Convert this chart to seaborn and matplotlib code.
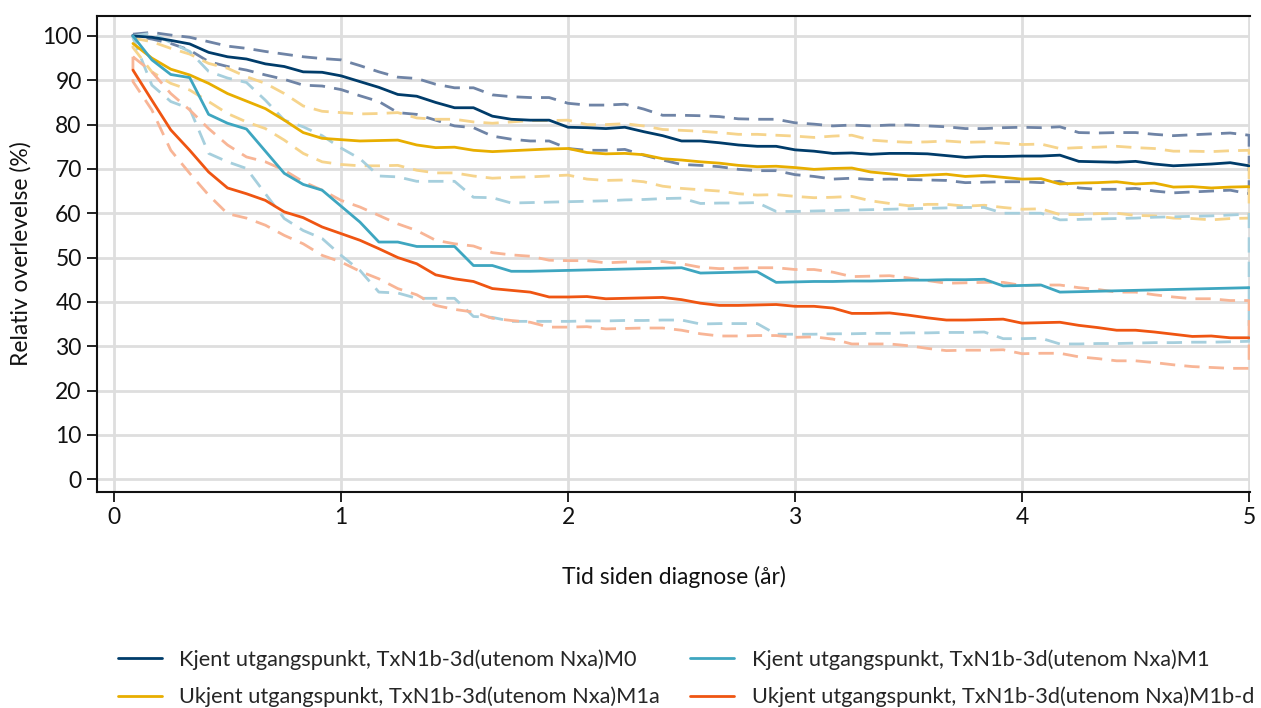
import numpy as np
import pandas as pd
import matplotlib
matplotlib.use("Agg")
import matplotlib.pyplot as plt
from matplotlib.lines import Line2D
import seaborn as sns

# ---------------- data ----------------
months = list(range(1, 61))
years = [m / 12 for m in months]

labels = [
    "Kjent utgangspunkt, TxN1b-3d(utenom Nxa)M0",
    "Ukjent utgangspunkt, TxN1b-3d(utenom Nxa)M1a",
    "Kjent utgangspunkt, TxN1b-3d(utenom Nxa)M1",
    "Ukjent utgangspunkt, TxN1b-3d(utenom Nxa)M1b-d",
]

m0_est = [100, 99.7, 99.0, 98.2, 96.3, 95.3, 94.8, 93.7, 93.1, 91.9, 91.8, 91.0,
          89.7, 88.4, 86.8, 86.4, 85.0, 83.8, 83.8, 81.9, 81.2, 81.0, 81.0, 79.4,
          79.3, 79.1, 79.4, 78.4, 77.5, 76.3, 76.3, 75.9, 75.4, 75.1, 75.1, 74.3,
          74.0, 73.5, 73.6, 73.3, 73.5, 73.5, 73.4, 73.0, 72.6, 72.8, 72.8, 72.9,
          72.9, 73.1, 71.7, 71.6, 71.5, 71.7, 71.1, 70.7, 70.9, 71.1, 71.4, 70.7]
m0_hi = [100.4, 100.8, 100.2, 99.7, 98.7, 97.7, 97.2, 96.5, 95.9, 95.3, 94.9, 94.6,
         93.3, 91.9, 90.7, 90.4, 89.1, 88.3, 88.3, 86.7, 86.3, 86.1, 86.1, 84.8,
         84.4, 84.4, 84.6, 83.5, 82.1, 82.1, 82.0, 81.8, 81.3, 81.2, 81.2, 80.4,
         80.1, 79.7, 79.9, 79.7, 79.9, 79.9, 79.7, 79.5, 79.1, 79.1, 79.3, 79.4,
         79.3, 79.5, 78.2, 78.1, 78.2, 78.2, 77.8, 77.5, 77.7, 77.9, 78.1, 77.6]
m0_lo = [100, 99.3, 98.3, 96.8, 94.2, 93.1, 92.3, 91.2, 90.2, 88.9, 88.7, 87.9,
         86.5, 85.2, 82.7, 82.3, 81.0, 79.7, 79.3, 77.4, 76.7, 76.3, 76.3, 74.6,
         74.2, 74.2, 74.4, 73.1, 72.0, 71.0, 70.8, 70.5, 69.9, 69.6, 69.6, 68.7,
         68.3, 67.7, 67.9, 67.6, 67.7, 67.6, 67.5, 67.4, 66.9, 67.0, 67.1, 67.1,
         66.9, 67.2, 65.7, 65.4, 65.4, 65.6, 65.0, 64.6, 64.8, 65.0, 65.2, 64.4]

m1a_est = [98.3, 95.0, 92.5, 91.2, 89.3, 87.0, 85.3, 83.6, 81.0, 78.2, 76.9, 76.6,
           76.3, 76.4, 76.5, 75.4, 74.8, 74.9, 74.2, 73.9, 74.1, 74.3, 74.5, 74.6,
           73.7, 73.4, 73.5, 73.2, 72.3, 72.0, 71.6, 71.3, 70.8, 70.5, 70.6, 70.3,
           69.9, 70.1, 70.2, 69.3, 68.9, 68.4, 68.6, 68.8, 68.3, 68.5, 68.1, 67.7,
           67.8, 66.6, 66.8, 66.9, 67.1, 66.6, 66.8, 65.9, 66.0, 65.7, 65.9, 66.0]
m1a_hi = [99.5, 98.7, 97.2, 95.9, 93.8, 92.7, 90.8, 89.3, 87.0, 84.2, 83.0, 82.7,
          82.4, 82.5, 82.7, 81.5, 81.2, 81.2, 80.6, 80.3, 80.6, 80.9, 80.9, 81.0,
          80.0, 80.0, 80.2, 79.7, 78.9, 78.7, 78.5, 78.2, 77.8, 77.8, 77.6, 77.4,
          77.1, 77.4, 77.6, 76.5, 76.2, 76.0, 76.1, 76.3, 76.0, 76.1, 75.8, 75.5,
          75.6, 74.6, 74.8, 74.9, 75.1, 74.8, 74.6, 74.0, 74.0, 73.9, 74.1, 74.2]
m1a_lo = [97.4, 91.9, 89.3, 87.8, 85.2, 82.5, 80.6, 79.1, 76.5, 73.5, 71.6, 71.0,
          70.7, 70.7, 70.8, 69.7, 69.1, 69.1, 68.4, 67.9, 68.1, 68.2, 68.4, 68.6,
          67.7, 67.4, 67.5, 67.1, 66.1, 65.6, 65.3, 65.0, 64.4, 64.1, 64.2, 63.8,
          63.5, 63.6, 63.8, 62.8, 62.2, 61.7, 62.0, 62.0, 61.6, 61.8, 61.3, 60.9,
          61.0, 59.7, 59.7, 59.9, 60.0, 59.5, 59.4, 58.9, 58.8, 58.5, 58.8, 58.9]

m1_est = [100, 94.6, 91.3, 90.6, 82.3, 80.3, 79.0, 74.0, 69.0, 66.5, 65.2, 61.6,
          58.0, 53.5, 53.5, 52.5, 52.5, 52.5, 48.2, 48.2, 46.9, 46.9, 47.0, 47.1,
          47.2, 47.3, 47.4, 47.5, 47.6, 47.7, 46.5, 46.6, 46.7, 46.8, 44.4, 44.5,
          44.6, 44.6, 44.7, 44.7, 44.8, 44.9, 44.9, 45.0, 45.0, 45.1, 43.6, 43.7,
          43.8, 42.2, 42.3, 42.4, 42.5, 42.6, 42.7, 42.8, 42.9, 43.0, 43.1, 43.2]
m1_hi = [100, 100.6, 98.5, 96.5, 92.0, 90.5, 89.5, 85.5, 81.0, 79.5, 77.5, 74.7,
         72.3, 68.4, 68.2, 67.2, 67.2, 67.2, 63.6, 63.5, 62.3, 62.4, 62.5, 62.6,
         62.7, 62.8, 63.0, 63.1, 63.3, 63.4, 62.2, 62.3, 62.3, 62.4, 60.4, 60.4,
         60.5, 60.6, 60.7, 60.8, 60.9, 61.0, 61.1, 61.2, 61.3, 61.3, 60.0, 60.0,
         60.0, 58.5, 58.6, 58.7, 58.8, 58.9, 59.1, 59.2, 59.3, 59.4, 59.6, 59.8]
m1_lo = [99.6, 88.9, 85.2, 83.6, 73.5, 71.6, 70.1, 64.4, 58.8, 56.1, 54.3, 50.5,
         47.1, 42.2, 42.0, 40.8, 40.8, 40.8, 36.7, 36.5, 35.6, 35.6, 35.6, 35.6,
         35.7, 35.7, 35.8, 35.8, 35.9, 35.9, 35.0, 35.1, 35.1, 35.1, 32.7, 32.7,
         32.7, 32.8, 32.8, 32.9, 32.9, 33.0, 33.0, 33.1, 33.1, 33.2, 31.7, 31.7,
         31.8, 30.5, 30.5, 30.6, 30.6, 30.7, 30.8, 30.8, 30.9, 30.9, 31.0, 31.1]

m1bd_est = [92.3, 85.5, 78.8, 74.2, 69.3, 65.7, 64.4, 62.9, 60.3, 59.0, 56.9, 55.4,
            53.9, 52.0, 50.0, 48.6, 46.1, 45.2, 44.6, 43.0, 42.6, 42.2, 41.1, 41.1,
            41.2, 40.7, 40.8, 40.9, 41.0, 40.5, 39.7, 39.2, 39.2, 39.3, 39.4, 39.0,
            39.0, 38.6, 37.4, 37.4, 37.5, 37.0, 36.4, 35.9, 35.9, 36.0, 36.1, 35.2,
            35.3, 35.4, 34.7, 34.2, 33.6, 33.6, 33.2, 32.7, 32.2, 32.3, 31.9, 31.9]
m1bd_hi = [95.3, 91.9, 87.0, 83.3, 79.1, 75.4, 72.7, 71.6, 69.7, 67.1, 65.2, 62.9,
           61.4, 59.5, 57.6, 56.1, 53.9, 53.1, 52.6, 51.1, 50.6, 50.3, 49.4, 49.3,
           49.3, 48.8, 49.0, 49.0, 49.1, 48.6, 47.8, 47.5, 47.6, 47.7, 47.7, 47.3,
           47.3, 46.7, 45.7, 45.8, 45.9, 45.4, 44.8, 44.2, 44.3, 44.4, 44.4, 43.7,
           43.8, 43.8, 43.2, 42.8, 42.2, 42.2, 41.6, 41.1, 40.7, 40.7, 40.3, 40.3]
m1bd_lo = [89.7, 83.3, 74.2, 69.0, 64.1, 59.9, 58.9, 57.3, 55.0, 53.1, 50.5, 49.0,
           46.9, 45.2, 43.0, 41.6, 39.2, 38.3, 37.7, 36.3, 35.8, 35.4, 34.3, 34.3,
           34.4, 33.9, 34.0, 34.1, 34.1, 33.6, 32.8, 32.3, 32.3, 32.4, 32.4, 32.0,
           32.1, 31.6, 30.5, 30.5, 30.5, 30.1, 29.5, 29.0, 29.1, 29.1, 29.2, 28.3,
           28.4, 28.4, 27.6, 27.2, 26.7, 26.7, 26.3, 25.8, 25.4, 25.2, 25.0, 25.0]

x_ticks = [0, 1, 2, 3, 4, 5]
y_ticks = [0, 10, 20, 30, 40, 50, 60, 70, 80, 90, 100]

colors = ["#003c6a", "#e8ae00", "#3ea6c0", "#ef5512"]
ci_colors = ["#6f84a6", "#f6d48c", "#a6cfdd", "#f8b596"]

series = [
    (labels[0], m0_est, m0_hi, m0_lo),
    (labels[1], m1a_est, m1a_hi, m1a_lo),
    (labels[2], m1_est, m1_hi, m1_lo),
    (labels[3], m1bd_est, m1bd_hi, m1bd_lo),
]

# ---------------- figure ----------------
sns.set_theme(style="white")
plt.rcParams["font.family"] = ["Lato", "DejaVu Sans"]

FS = 16.5
LFS = 15.7
fig = plt.figure(figsize=(12.61, 7.08), dpi=100)
ax = fig.add_axes([97 / 1261, (708 - 492) / 708, (1250 - 97) / 1261, (492 - 16) / 708])

palette = dict(zip(labels, colors))

# confidence bands drawn as closed dashed outlines
for (lab, est, hi, lo), col in zip(series, ci_colors):
    ci = pd.DataFrame({
        "t": years + years[::-1] + [years[0]],
        "v": hi + lo[::-1] + [hi[0]],
    })
    sns.lineplot(data=ci, x="t", y="v", sort=False, estimator=None, ax=ax,
                 color=col, lw=2.0, zorder=2)
    ax.lines[-1].set_dashes((5.5, 3.3))

long = pd.concat([
    pd.DataFrame({"t": years, "v": est, "serie": lab}) for lab, est, hi, lo in series
])
sns.lineplot(data=long, x="t", y="v", hue="serie", palette=palette,
             hue_order=labels, ax=ax, lw=2.0, legend=False, zorder=3,
             estimator=None)

ax.set_xlim(-0.075, 5.004)
ax.set_ylim(-2.9, 104.5)
ax.set_xticks(x_ticks)
ax.set_yticks(y_ticks)
ax.grid(True, color="#dedede", lw=2.0)
ax.set_axisbelow(True)
for s in ["left", "bottom", "top"]:
    ax.spines[s].set_color("#111111")
    ax.spines[s].set_linewidth(1.5)
ax.spines["right"].set_visible(False)
ax.tick_params(axis="both", direction="out", length=7, width=1.3, color="#111111",
               labelsize=FS, labelcolor="#111111", bottom=True, left=True, pad=4)

ax.set_xlabel("Tid siden diagnose (år)", fontsize=FS, color="#111111", labelpad=27)
ax.set_ylabel("Relativ overlevelse (%)", fontsize=FS, color="#111111", labelpad=8)

handles = [Line2D([], [], color=c, lw=2.0) for c in colors]
fig.legend(handles, labels, ncol=2, loc="upper left",
           bbox_to_anchor=(118 / 1261, 1 - 649 / 708), bbox_transform=fig.transFigure,
           frameon=False, fontsize=LFS, handlelength=2.0, handletextpad=0.82,
           columnspacing=1.38, labelspacing=0.78, borderaxespad=0, borderpad=0)

fig.savefig("out.png", dpi=100)
